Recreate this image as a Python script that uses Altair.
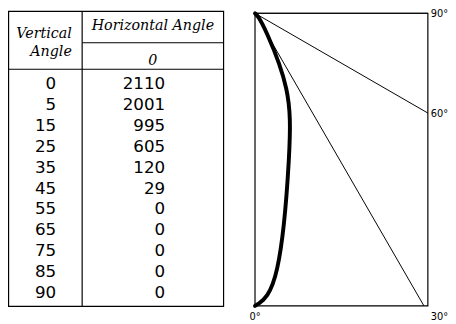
import altair as alt
import pandas as pd

# ---- data ----
vertical_angles = [0, 5, 15, 25, 35, 45, 55, 65, 75, 85, 90]
candela = [2110, 2001, 995, 605, 120, 29, 0, 0, 0, 0, 0]
horizontal_angle = "0"
ray_angles = [30, 60, 90]
ray_labels = ["30°", "60°", "90°"]
zero_label = "0°"
header_vertical = ["Vertical", "Angle"]
header_horizontal = "Horizontal Angle"

W, H = 448, 316
BLACK = "#000000"
SANS = "DejaVu Sans"
SERIF = "DejaVu Serif"

one = pd.DataFrame({"k": [0]})

# ---------------- table ----------------
rows = []
for va, cd in zip(vertical_angles, candela):
    rows.append({"row": str(va), "col": "va", "label": str(va)})
    rows.append({"row": str(va), "col": "cd", "label": str(cd)})
tdf = pd.DataFrame(rows)

table_text = alt.Chart(tdf).mark_text(
    align="right", baseline="middle", font=SANS, fontSize=17, color=BLACK
).encode(
    x=alt.X("col:N", scale=alt.Scale(type="point", domain=["va", "cd"], range=[49, 160], padding=0), axis=None),
    y=alt.Y("row:N", scale=alt.Scale(type="point", domain=[str(v) for v in vertical_angles], range=[75, 287], padding=0), axis=None),
    text="label:N",
)

def rule(x, x2, y, y2):
    return alt.Chart(one).mark_rule(color=BLACK, strokeWidth=1.2).encode(
        x=alt.value(x), x2=alt.value(x2), y=alt.value(y), y2=alt.value(y2)
    )

def label(s, x, y, align, **kw):
    return alt.Chart(one).mark_text(
        text=s, align=align, baseline="middle", font=SERIF, fontStyle="italic",
        fontSize=14.5, color=BLACK, **kw
    ).encode(x=alt.value(x), y=alt.value(y))

outer = alt.Chart(one).mark_rect(fillOpacity=0, stroke=BLACK, strokeWidth=1.2).encode(
    x=alt.value(0.6), x2=alt.value(219.5), y=alt.value(0.6), y2=alt.value(301)
)
table = alt.layer(
    outer,
    rule(75.5, 75.5, 0.6, 301),
    rule(75.5, 219.5, 32.5, 32.5),
    rule(0.6, 219.5, 59.5, 59.5),
    label(header_vertical[0], 65, 23.5, "right"),
    label(header_vertical[1], 65, 42, "right"),
    label(header_horizontal, 147.5, 16, "center"),
    label(horizontal_angle, 147.5, 51, "center"),
    table_text,
)

# ---------------- polar candela plot ----------------
YMAX = max(candela)
XMAX = YMAX * 176 / 298
xs = alt.Scale(domain=[0, XMAX], range=[251.5, 427.5], nice=False, zero=False)
ys = alt.Scale(domain=[0, YMAX], range=[2.5, 300.5], nice=False, zero=False)

pdf = pd.DataFrame({"angle": vertical_angles, "cd": candela})
frame_df = pd.DataFrame({"x0": [0], "x1": [XMAX], "y0": [0], "y1": [YMAX]})
ray_df = pd.DataFrame({"a": ray_angles, "lab": ray_labels})

frame = alt.Chart(frame_df).mark_rect(fillOpacity=0, stroke=BLACK, strokeWidth=1.2).encode(
    x=alt.X("x0:Q", scale=xs, axis=None), x2="x1:Q",
    y=alt.Y("y0:Q", scale=ys, axis=None), y2="y1:Q",
)

ray_base = alt.Chart(ray_df).transform_calculate(
    s="sin(datum.a*PI/180)", c="cos(datum.a*PI/180)"
).transform_calculate(
    r=f"min({XMAX}/max(datum.s,1e-9), {YMAX}/max(datum.c,1e-9))"
).transform_calculate(
    ex="datum.r*datum.s", ey="datum.r*datum.c", zx="0", zy="0"
)

rays = ray_base.mark_rule(color=BLACK, strokeWidth=1).encode(
    x=alt.X("zx:Q", scale=xs, axis=None), y=alt.Y("zy:Q", scale=ys, axis=None),
    x2="ex:Q", y2="ey:Q",
)

curve = alt.Chart(pdf).transform_calculate(
    px="datum.cd*sin(datum.angle*PI/180)", py="datum.cd*cos(datum.angle*PI/180)"
).mark_line(
    interpolate="basis", strokeWidth=4, color=BLACK, strokeCap="round", strokeJoin="round"
).encode(
    x=alt.X("px:Q", scale=xs, axis=None), y=alt.Y("py:Q", scale=ys, axis=None),
    order="angle:Q",
)

def deg_label(flt, dx, dy):
    return ray_base.transform_filter(flt).mark_text(
        align="left", baseline="middle", font=SANS, fontSize=10, color=BLACK, dx=dx, dy=dy
    ).encode(
        x=alt.X("ex:Q", scale=xs, axis=None), y=alt.Y("ey:Q", scale=ys, axis=None), text="lab:N"
    )

lab_30 = deg_label("datum.a == 30", 7, 11)
lab_hi = deg_label("datum.a != 30", 3, 1)

lab_0 = alt.Chart(frame_df).mark_text(
    text=zero_label, align="center", baseline="middle", font=SANS, fontSize=10, color=BLACK, dy=11
).encode(x=alt.X("x0:Q", scale=xs, axis=None), y=alt.Y("y1:Q", scale=ys, axis=None))

polar = alt.layer(frame, rays, curve, lab_30, lab_hi, lab_0)

chart = alt.layer(table, polar).resolve_scale(
    x="independent", y="independent"
).properties(
    width=W, height=H, autosize=alt.AutoSizeParams(type="none"), padding=0
).configure_view(strokeWidth=0)

chart.save("out.html", embed_options={"renderer": "svg", "actions": False})
